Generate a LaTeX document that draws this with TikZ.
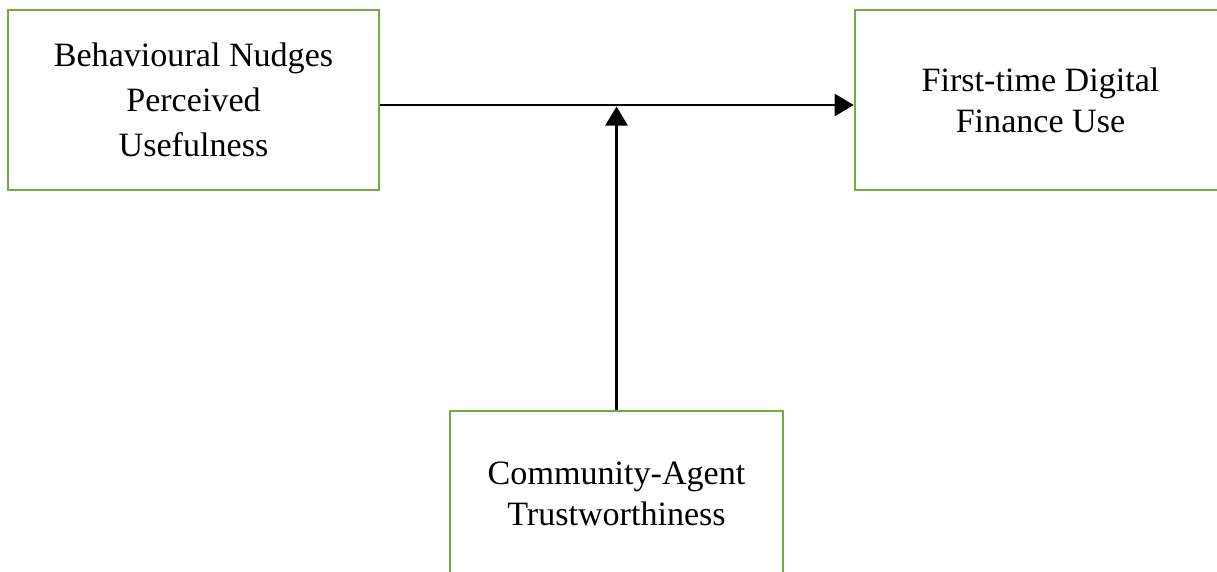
\documentclass[tikz,border=0pt]{standalone}
\usepackage{fontspec}
\setmainfont{Liberation Serif}
\usetikzlibrary{arrows.meta, positioning, calc}
\definecolor{BoxGreen}{RGB}{112, 173, 71}
\definecolor{LineBlack}{RGB}{0, 0, 0}
\tikzset{
  varbox/.style={draw=BoxGreen, line width=1.5pt, fill=white, align=center,
    font=\fontsize{19.4pt}{23.3pt}\selectfont},
  link/.style={line width=1.5pt, LineBlack, -{Triangle[length=0.38cm, width=0.44cm]}}
}
\begin{document}
\begin{tikzpicture}
      % Page frame
      \clip (0, 0) rectangle (24.34, -11.42);

      % Variables
      \node[varbox, minimum width=7.42cm, minimum height=3.6cm] (nudge) at (3.87, -2.0) {Behavioural Nudges\\[2.3pt]Perceived\\[2.3pt]Usefulness};
      \node[varbox, minimum width=7.42cm, minimum height=3.6cm] (finance) at (20.81, -2.0) {First-time Digital\\Finance Use};
      \node[varbox, minimum width=6.66cm, minimum height=3.3cm] (trust) at (12.33, -9.87) {Community-Agent\\Trustworthiness};

      % Moderation point
      \coordinate (join) at (12.33, -2.1);

      % Paths
      \draw[link] (nudge.east |- join) -- (finance.west |- join);
      \draw[link, shorten >=0.03cm] (trust.north) -- (join);
\end{tikzpicture}
\end{document}
